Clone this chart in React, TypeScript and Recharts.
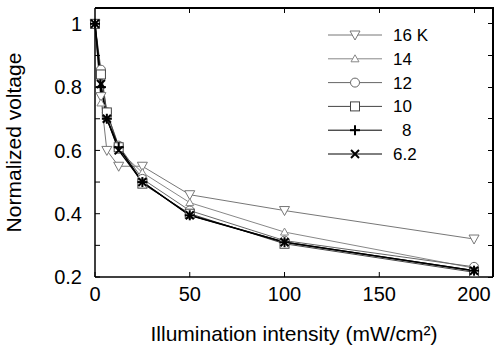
import React from 'react';
import { LineChart, Line, XAxis, YAxis } from 'recharts';

const intensity = [0, 3.125, 6.25, 12.5, 25, 50, 100, 200];
const v16 = [1, 0.77, 0.6, 0.55, 0.55, 0.46, 0.41, 0.32];
const v14 = [1, 0.75, 0.7, 0.6, 0.53, 0.435, 0.342, 0.228];
const v12 = [1, 0.855, 0.72, 0.615, 0.51, 0.41, 0.315, 0.232];
const v10 = [1, 0.84, 0.72, 0.61, 0.495, 0.4, 0.305, 0.215];
const v8 = [1, 0.8, 0.7, 0.61, 0.5, 0.395, 0.31, 0.22];
const v62 = [1, 0.81, 0.7, 0.6, 0.5, 0.395, 0.31, 0.22];

const xTicks = [0, 50, 100, 150, 200];
const yTicks = [0.2, 0.3, 0.4, 0.5, 0.6, 0.7, 0.8, 0.9, 1];
const xMax = 210;
const yMin = 0.2;
const yMax = 1.05;

const W = 496;
const H = 345;
const M = { top: 8, right: 3, left: 0, bottom: 0 };
const Y_AXIS_W = 95;
const X_AXIS_H = 68;

const series = [
  { key: 's16', name: '16 K', values: v16, mark: 'down', color: '#777', width: 1 },
  { key: 's14', name: '14', values: v14, mark: 'up', color: '#888', width: 1 },
  { key: 's12', name: '12', values: v12, mark: 'circle', color: '#666', width: 1 },
  { key: 's10', name: '10', values: v10, mark: 'square', color: '#444', width: 1 },
  { key: 's8', name: '8', values: v8, mark: 'plus', color: '#000', width: 1.5 },
  { key: 's62', name: '6.2', values: v62, mark: 'cross', color: '#000', width: 1.2 },
];

const data = intensity.map((x, i) => {
  const row: any = { x };
  series.forEach(s => { row[s.key] = s.values[i]; });
  return row;
});

const font = '"Liberation Sans", Arial, sans-serif';

const Mark = ({ kind, cx, cy, color }: { kind: string; cx: number; cy: number; color: string }) => {
  if (cx == null || cy == null) return <g />;
  switch (kind) {
    case 'down':
      return <polygon points={`${cx - 5},${cy - 4} ${cx + 5},${cy - 4} ${cx},${cy + 5}`} fill="#fff" stroke={color} strokeWidth={1} />;
    case 'up':
      return <polygon points={`${cx - 4},${cy + 3} ${cx + 4},${cy + 3} ${cx},${cy - 4}`} fill="#fff" stroke={color} strokeWidth={1} />;
    case 'circle':
      return <circle cx={cx} cy={cy} r={4.5} fill="#fff" stroke={color} strokeWidth={1} />;
    case 'square':
      return <rect x={cx - 4.5} y={cy - 4.5} width={9} height={9} fill="#fff" stroke={color} strokeWidth={1} />;
    case 'plus':
      return (
        <g stroke={color} strokeWidth={2}>
          <line x1={cx - 5} y1={cy} x2={cx + 5} y2={cy} />
          <line x1={cx} y1={cy - 5} x2={cx} y2={cy + 5} />
        </g>
      );
    default:
      return (
        <g stroke={color} strokeWidth={2}>
          <line x1={cx - 4} y1={cy - 4} x2={cx + 4} y2={cy + 4} />
          <line x1={cx - 4} y1={cy + 4} x2={cx + 4} y2={cy - 4} />
        </g>
      );
  }
};

// plot box edges
const x0 = M.left + Y_AXIS_W;
const y0 = M.top;
const x1 = W - M.right;
const y1 = H - M.bottom - X_AXIS_H;
const px = (v: number) => x0 + (v / xMax) * (x1 - x0);
const py = (v: number) => y1 - ((v - yMin) / (yMax - yMin)) * (y1 - y0);

// top + right edges as plain divs (ticks inward)
const Frame = () => (
  <>
    <div style={{ position: 'absolute', left: x0, top: y0 - 1, width: x1 - x0 + 1, height: 2, background: '#000' }} />
    <div style={{ position: 'absolute', left: x1 - 1, top: y0 - 1, width: 2, height: y1 - y0 + 1, background: '#000' }} />
    {xTicks.slice(1).map(t => (
      <div key={`tx${t}`} style={{ position: 'absolute', left: px(t) - 0.5, top: y0, width: 1, height: 5, background: '#000' }} />
    ))}
    {yTicks.map(t => (
      <div key={`ty${t}`} style={{ position: 'absolute', left: x1 - 5, top: py(t) - 0.5, width: 5, height: 1, background: '#000' }} />
    ))}
  </>
);

const LegendBox = () => (
  <svg width={140} height={150} style={{ position: 'absolute', left: 328, top: 27 }}>
    {series.map((s, i) => {
      const y = 8 + i * 23.8;
      return (
        <g key={s.key}>
          <line x1={0} y1={y} x2={54} y2={y} stroke={s.color} strokeWidth={1} />
          <Mark kind={s.mark} cx={27} cy={y} color={s.color} />
          <text x={s.name === '8' ? 74 : 65} y={y + 6} fontSize={17} fontFamily={font} fill="#000">{s.name}</text>
        </g>
      );
    })}
  </svg>
);

const yFmt = (v: number) => {
  const t = Math.round(v * 10);
  if (t % 2 !== 0) return '';
  return t === 10 ? '1' : (t / 10).toFixed(1);
};

const App: React.FC = () => (
  <div style={{ position: 'absolute', left: 0, top: 0, width: W, height: H, background: '#fff' }}>
    <LineChart width={W} height={H} data={data} margin={M}>
      <XAxis
        dataKey="x"
        type="number"
        domain={[0, xMax]}
        ticks={xTicks}
        height={X_AXIS_H}
        tickSize={-5}
        tickMargin={15}
        tick={{ fill: '#000', fontSize: 20, fontFamily: font }}
        axisLine={{ stroke: '#000', strokeWidth: 1.5 }}
        tickLine={{ stroke: '#000' }}
        label={{ value: 'Illumination intensity (mW/cm²)', position: 'insideBottom', offset: 4, fill: '#000', fontSize: 21, fontFamily: font }}
      />
      <YAxis
        type="number"
        domain={[yMin, yMax]}
        ticks={yTicks}
        width={Y_AXIS_W}
        tickSize={-5}
        tickMargin={18}
        tickFormatter={yFmt}
        tick={{ fill: '#000', fontSize: 20, fontFamily: font }}
        axisLine={{ stroke: '#000', strokeWidth: 1.5 }}
        tickLine={{ stroke: '#000' }}
        label={{ value: 'Normalized voltage', angle: -90, position: 'insideLeft', offset: 14, fill: '#000', fontSize: 21, fontFamily: font, style: { textAnchor: 'middle' } }}
      />
      {series.map(s => (
        <Line
          key={s.key}
          dataKey={s.key}
          name={s.name}
          type="linear"
          stroke={s.color}
          strokeWidth={s.width}
          isAnimationActive={false}
          dot={(p: any) => <Mark key={`${s.key}-${p.index}`} kind={s.mark} cx={p.cx} cy={p.cy} color={s.color} />}
        />
      ))}
    </LineChart>
    <Frame />
    <LegendBox />
  </div>
);

export default App;
